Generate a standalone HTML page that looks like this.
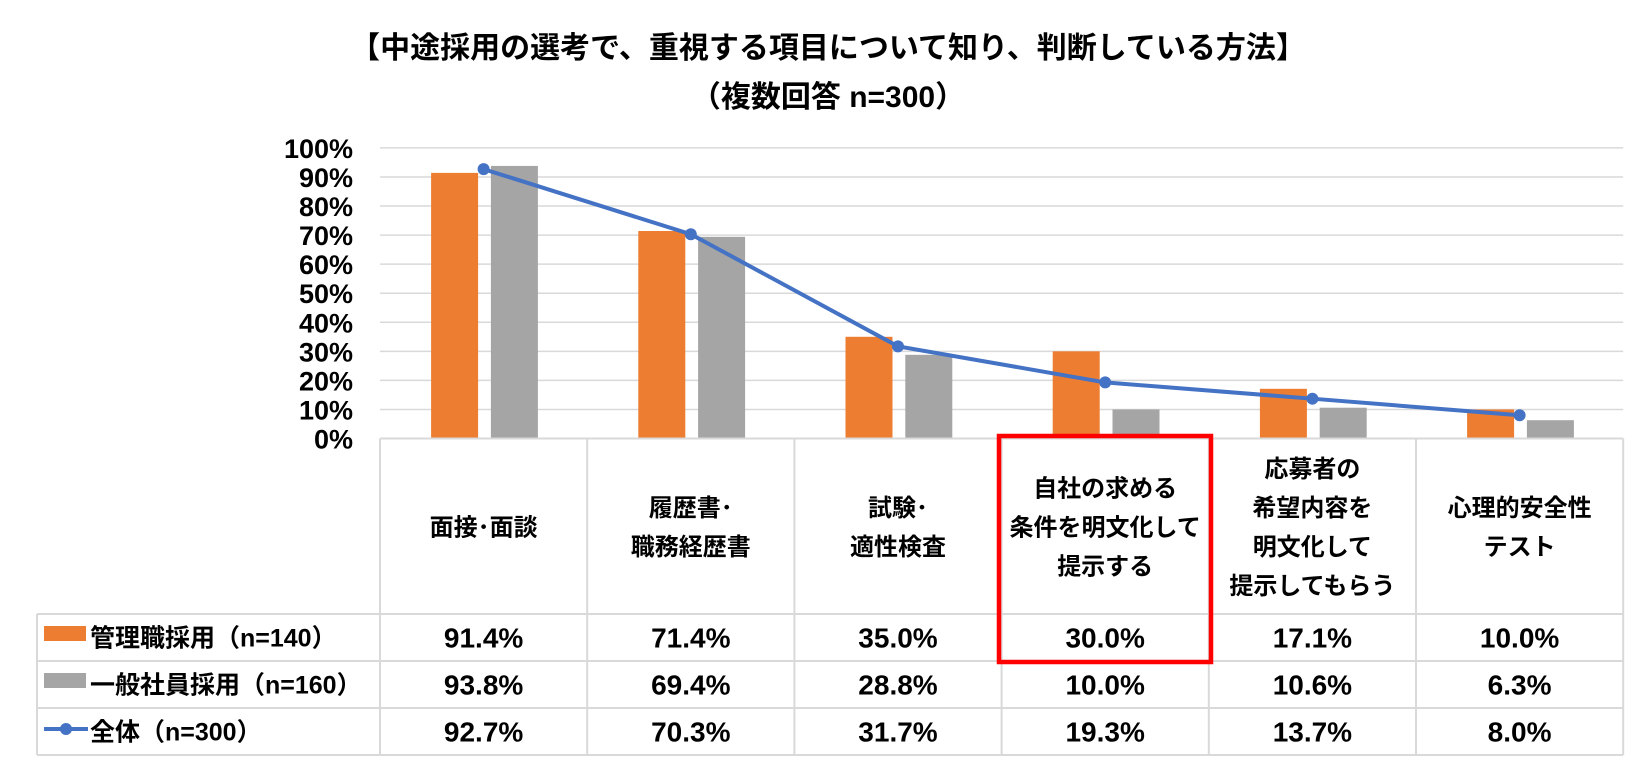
<!DOCTYPE html>
<html><head><meta charset="utf-8">
<style>
body{margin:0;background:#fff;font-family:"Liberation Sans","Noto Sans CJK JP",sans-serif;}
svg text{font-family:"Liberation Sans","Noto Sans CJK JP",sans-serif;font-weight:bold;fill:#000;}
</style></head>
<body>
<svg id="c" width="1645" height="768"></svg>
<script>
const categories=[["面接･面談"],["履歴書･","職務経歴書"],["試験･","適性検査"],["自社の求める","条件を明文化して","提示する"],["応募者の","希望内容を","明文化して","提示してもらう"],["心理的安全性","テスト"]];
const mgmt=[91.4,71.4,35.0,30.0,17.1,10.0];
const general=[93.8,69.4,28.8,10.0,10.6,6.3];
const total=[92.7,70.3,31.7,19.3,13.7,8.0];
const yTicks=[0,10,20,30,40,50,60,70,80,90,100];
const seriesNames=["管理職採用（n=140）","一般社員採用（n=160）","全体（n=300）"];

const svg=document.getElementById('c');const NS="http://www.w3.org/2000/svg";
function el(t,a,p){const e=document.createElementNS(NS,t);for(const k in a)e.setAttribute(k,a[k]);(p||svg).appendChild(e);return e;}
const X0=380,CW=207.2,Y0=438.5,YH=290.6;
const xc=i=>X0+CW*(i+0.5);
const y=v=>Y0-v/100*YH;
let t=el('text',{x:828,y:58,'font-size':30,'text-anchor':'middle'});t.textContent="【中途採用の選考で、重視する項目について知り、判断している方法】";

t=el('text',{x:828,y:107,'font-size':30,'text-anchor':'middle'});t.textContent="（複数回答 n=300）";

yTicks.forEach(v=>{
  if(v>0){const g=el('line',{x1:X0,x2:X0+6*CW,y1:y(v),y2:y(v),stroke:'#d9d9d9','stroke-width':1.5});
  }
  const l=el('text',{x:353,y:y(v)+10,'font-size':27,'text-anchor':'end'});l.textContent=v+'%';
  
});
mgmt.forEach((v,i)=>{const r=el('rect',{x:xc(i)-52.5,y:y(v),width:47,height:Y0-y(v),fill:'#ed7d31'});
  });
general.forEach((v,i)=>{const r=el('rect',{x:xc(i)+7.3,y:y(v),width:47,height:Y0-y(v),fill:'#a5a5a5'});
  });
const pl=el('polyline',{points:total.map((v,i)=>xc(i)+','+y(v)).join(' '),fill:'none',stroke:'#4472c4','stroke-width':4});

total.forEach((v,i)=>{const c=el('circle',{cx:xc(i),cy:y(v),r:6,fill:'#4472c4'});
  });
const rows=[438.5,614,661,708,755];const LX=37,RX=X0+6*CW;
const gs={stroke:'#d9d9d9','stroke-width':2};
for(let i=0;i<=6;i++){el('line',Object.assign({x1:X0+CW*i,x2:X0+CW*i,y1:438.5,y2:755},gs));}
el('line',Object.assign({x1:X0,x2:RX,y1:438.5,y2:438.5},gs));
for(let r=1;r<5;r++)el('line',Object.assign({x1:LX,x2:RX,y1:rows[r],y2:rows[r]},gs));
el('line',Object.assign({x1:LX,x2:LX,y1:614,y2:755},gs));
categories.forEach((lines,i)=>{
  const lh=39,start=(438.5+614)/2-(lines.length-1)*lh/2;
  lines.forEach((s,j)=>{const tx=el('text',{x:xc(i),y:start+j*lh+9,'font-size':24,'text-anchor':'middle'});tx.textContent=s;
    });
});
[mgmt,general,total].forEach((arr,r)=>{
  const cy=(rows[r+1]+rows[r+2])/2;
  arr.forEach((v,i)=>{const tx=el('text',{x:xc(i),y:cy+10,'font-size':28,'text-anchor':'middle'});tx.textContent=v.toFixed(1)+'%';
    });
  const ly=el('text',{x:90,y:cy+9,'font-size':25}); ly.textContent=seriesNames[r];
  
});
let k=el('rect',{x:44,y:626,width:42,height:15,fill:'#ed7d31'});
k=el('rect',{x:44,y:673,width:42,height:15,fill:'#a5a5a5'});
k=el('line',{x1:44,x2:88,y1:729,y2:729,stroke:'#4472c4','stroke-width':4});
el('circle',{cx:66,cy:729,r:6,fill:'#4472c4'});
const hb=el('rect',{x:999,y:436,width:212,height:226,fill:'none',stroke:'#ff0000','stroke-width':4.5});

</script>
</body></html>
